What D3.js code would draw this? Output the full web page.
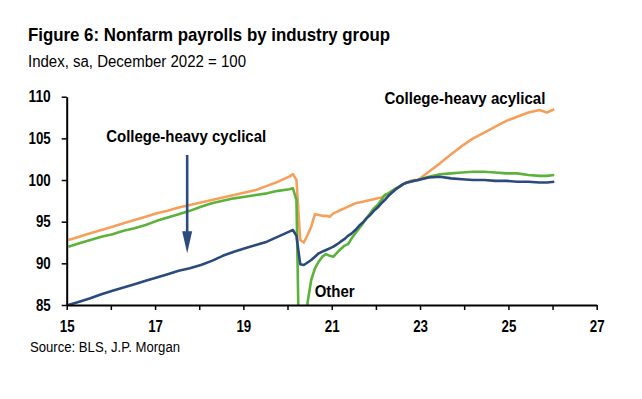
<!DOCTYPE html>
<html>
<head>
<meta charset="utf-8">
<script src="https://cdn.jsdelivr.net/npm/d3@7"></script>
<style>
  body { margin: 0; background: #fff; }
  svg { display: block; font-family: "Liberation Sans", Arial, sans-serif; }
</style>
</head>
<body>
<svg id="chart" width="642" height="399"></svg>
<script>
// monthly readings (quarterly away from the covid shock)
const months = [
  '2015-01','2015-04','2015-07','2015-10','2016-01','2016-04','2016-07','2016-10',
  '2017-01','2017-04','2017-07','2017-10','2018-01','2018-04','2018-07','2018-10',
  '2019-01','2019-04','2019-07','2019-10','2020-01','2020-02','2020-03',
  '2020-04','2020-05','2020-06','2020-07','2020-08','2020-09','2020-10','2020-11','2020-12',
  '2021-01','2021-02','2021-03','2021-04','2021-05','2021-06','2021-07','2021-08','2021-09','2021-10','2021-11','2021-12',
  '2022-01','2022-02','2022-03','2022-04','2022-05','2022-06','2022-07','2022-08','2022-09','2022-10','2022-11','2022-12',
  '2023-03','2023-06','2023-09','2023-12','2024-03','2024-06','2024-09','2024-12',
  '2025-03','2025-06','2025-09','2025-11','2026-01'
];

const acyclical = [
  92.8,93.2,93.6,94.0,94.4,94.8,95.2,95.6,
  96.0,96.3,96.7,97.0,97.3,97.6,97.9,98.2,
  98.5,98.8,99.3,99.8,100.4,100.7,100.0,
  92.8,92.5,93.4,94.4,95.9,95.8,95.7,95.7,95.6,
  96.0,96.2,96.4,96.6,96.8,97.0,97.2,97.3,97.4,97.5,97.6,97.7,
  97.8,97.9,98.1,98.4,98.7,98.9,99.2,99.5,99.7,99.9,100.0,100.0,
  101.0,102.0,103.1,104.1,105.0,105.7,106.4,107.1,
  107.6,108.1,108.4,108.1,108.5
];

const cyclical = [
  85.0,85.4,85.8,86.3,86.7,87.1,87.5,87.9,
  88.3,88.7,89.1,89.4,89.8,90.3,90.9,91.4,
  91.8,92.2,92.6,93.2,93.8,94.0,93.3,
  89.9,89.8,90.1,90.4,90.8,91.2,91.4,91.6,91.8,
  92.0,92.3,92.6,92.9,93.3,93.6,94.0,94.5,94.9,95.4,95.8,96.3,
  96.7,97.2,97.6,98.1,98.5,98.9,99.2,99.5,99.7,99.8,99.9,100.0,
  100.3,100.4,100.2,100.1,100.0,100.0,99.9,99.9,
  99.8,99.8,99.7,99.7,99.8
];

const other = [
  92.0,92.4,92.8,93.2,93.5,93.9,94.2,94.6,
  95.1,95.5,95.9,96.3,96.8,97.2,97.5,97.8,
  98.0,98.2,98.4,98.7,98.9,99.0,97.6,
  72.0,78.0,85.3,88.0,89.4,90.2,90.8,91.1,90.9,
  90.8,91.3,91.7,92.1,92.3,93.0,93.6,94.2,94.8,95.4,96.0,96.6,
  97.0,97.6,98.2,98.4,98.7,99.0,99.2,99.5,99.7,99.8,99.9,100.0,
  100.4,100.7,100.8,100.9,101.0,101.0,100.9,100.8,
  100.8,100.6,100.5,100.5,100.6
];

const yTicks = [85, 90, 95, 100, 105, 110];

const seriesNames = ['College-heavy acylical', 'Other', 'College-heavy cyclical'];
const seriesValues = [acyclical, other, cyclical];
const seriesColors = ['#f6a05c', '#5cb23b', '#2b4a7e'];

const parseMonth = (s) => {
  const [yy, mm] = s.split('-').map(Number);
  return new Date(yy, mm - 1, 15);
};
const dates = months.map(parseMonth);

// squeeze text to the narrow face of the original
const fit = (sel, w) => sel.attr('textLength', w).attr('lengthAdjust', 'spacingAndGlyphs');

const svg = d3.select('#chart');
const margin = { top: 96.7, right: 45.3, bottom: 94, left: 66.7 };
const width = 642, height = 399;

const x = d3.scaleTime()
  .domain([new Date(2015, 0, 1), new Date(2027, 0, 1)])
  .range([margin.left, width - margin.right]);
const y = d3.scaleLinear()
  .domain([85, 110])
  .range([height - margin.bottom, margin.top]);

svg.append('rect').attr('width', width).attr('height', height).attr('fill', '#fff');

// titles
svg.append('text')
  .attr('x', 28).attr('y', 40.5)
  .style('font-size', '18.5px').style('font-weight', 'bold')
  .text('Figure 6: Nonfarm payrolls by industry group')
  .call(fit, 362);
svg.append('text')
  .attr('x', 28).attr('y', 67)
  .style('font-size', '16px')
  .text('Index, sa, December 2022 = 100')
  .call(fit, 218);
svg.append('text')
  .attr('x', 30).attr('y', 351.5)
  .style('font-size', '14px')
  .text('Source: BLS, J.P. Morgan')
  .call(fit, 150);

svg.append('clipPath').attr('id', 'plot-clip')
  .append('rect')
  .attr('x', margin.left).attr('y', 0)
  .attr('width', width - margin.left).attr('height', y(85));

const line = d3.line()
  .x((d) => x(d.date))
  .y((d) => y(d.v));

const data = seriesNames.map((name, i) => ({
  name: name,
  color: seriesColors[i],
  points: dates.map((dt, j) => ({ date: dt, v: seriesValues[i][j] }))
}));

svg.append('g')
  .attr('clip-path', 'url(#plot-clip)')
  .selectAll('path')
  .data(data)
  .join('path')
  .attr('d', (d) => line(d.points))
  .style('fill', 'none')
  .style('stroke', (d) => d.color)
  .style('stroke-width', 2.6)
  .style('stroke-linejoin', 'round');

// axes
const xAxis = d3.axisBottom(x)
  .ticks(d3.timeYear.every(1))
  .tickSize(5)
  .tickSizeOuter(0)
  .tickPadding(10)
  .tickFormat((d) => (d.getFullYear() % 2 === 1 ? d3.timeFormat('%y')(d) : ''));
const yAxis = d3.axisLeft(y)
  .tickValues(yTicks)
  .tickSize(5)
  .tickSizeOuter(0)
  .tickPadding(11);

const gx = svg.append('g')
  .attr('transform', `translate(0,${y(85)})`)
  .call(xAxis);
const gy = svg.append('g')
  .attr('transform', `translate(${margin.left},0)`)
  .call(yAxis);

[gx, gy].forEach((g) => {
  g.select('.domain').attr('stroke', '#000').attr('stroke-width', 2);
  g.selectAll('.tick line').attr('stroke', '#000').attr('stroke-width', 1.5);
  g.selectAll('.tick text')
    .attr('fill', '#000')
    .style('font-family', '"Liberation Sans", Arial, sans-serif')
    .style('font-size', '16.5px')
    .style('font-weight', 'bold')
    .each(function () {
      const t = d3.select(this).text();
      if (t) fit(d3.select(this), t.length * 7.4);
    });
});

// annotations
const labels = [
  { text: 'College-heavy cyclical', date: '2017-09', v: 104.6, anchor: 'middle', w: 160 },
  { text: 'College-heavy acylical', date: '2022-04', v: 109.1, anchor: 'start', w: 161 },
  { text: 'Other', date: '2020-09', v: 86.0, anchor: 'start', w: 40 }
];
svg.selectAll('text.label')
  .data(labels)
  .join('text')
  .attr('class', 'label')
  .attr('x', (d) => x(parseMonth(d.date)) + (d.anchor === 'start' ? -4 : 0))
  .attr('y', (d) => y(d.v))
  .attr('text-anchor', (d) => d.anchor)
  .attr('textLength', (d) => d.w)
  .attr('lengthAdjust', 'spacingAndGlyphs')
  .style('font-size', '16.5px')
  .style('font-weight', 'bold')
  .text((d) => d.text);

// arrow pointing at the cyclical line
const arrowDate = parseMonth('2017-09');
const arrowTop = 103.0, arrowTip = 91.2;
const ax = x(arrowDate) + 1;
svg.append('line')
  .attr('x1', ax).attr('x2', ax)
  .attr('y1', y(arrowTop)).attr('y2', y(arrowTip) - 18)
  .attr('stroke', '#2b4a7e').attr('stroke-width', 2.6);
svg.append('path')
  .attr('d', `M${ax - 5},${y(arrowTip) - 22} L${ax + 5},${y(arrowTip) - 22} L${ax},${y(arrowTip)} Z`)
  .attr('fill', '#2b4a7e');
</script>
</body>
</html>
